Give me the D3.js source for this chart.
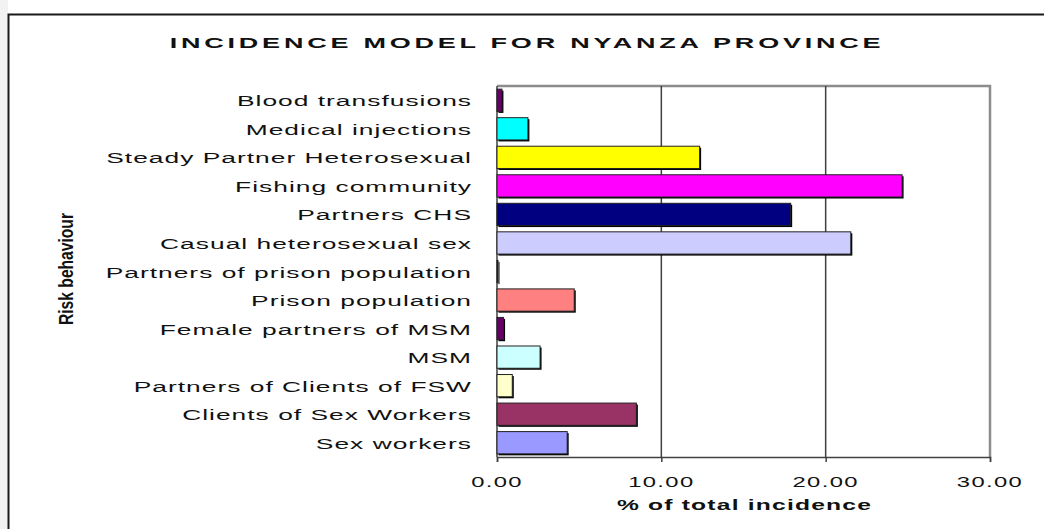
<!DOCTYPE html>
<html>
<head>
<meta charset="utf-8">
<script src="https://cdn.jsdelivr.net/npm/d3@7"></script>
<style>
  html, body { margin: 0; padding: 0; background: #fff; }
  svg { display: block; }
  text { font-family: "Liberation Sans", Arial, sans-serif; fill: #111; }
</style>
</head>
<body>
<div id="chart"></div>
<script>
// data
const categories = [
  "Blood transfusions",
  "Medical injections",
  "Steady Partner Heterosexual",
  "Fishing community",
  "Partners CHS",
  "Casual heterosexual sex",
  "Partners of prison population",
  "Prison population",
  "Female partners of MSM",
  "MSM",
  "Partners of Clients of FSW",
  "Clients of Sex Workers",
  "Sex workers"
]
const values = [0.30, 1.88, 12.33, 24.65, 17.87, 21.53, 0.06, 4.70, 0.40, 2.62, 0.93, 8.48, 4.27]
const barColors = ["#660066", "#00ffff", "#ffff00", "#ff00ff", "#000080", "#ccccff", "#000000",
  "#ff8080", "#660066", "#ccffff", "#ffffcc", "#993366", "#9999ff"]
const xTicks = [0, 10, 20, 30]
const title = "INCIDENCE MODEL FOR NYANZA PROVINCE"
const xTitle = "% of total incidence"
const yTitle = "Risk behaviour"

const W = 1044, H = 529
const plot = { left: 497, right: 990, top: 86, bottom: 457 }
const SX = 1.7   // the picture is stretched sideways

const svg = d3.select("#chart").append("svg")
  .attr("width", W)
  .attr("height", H)

// outer frame
svg.append("rect").attr("x", 0).attr("y", 0).attr("width", 8).attr("height", H).attr("fill", "#f2f2f2")
svg.append("path")
  .attr("d", `M8.5,${H} V14.5 H${W}`)
  .attr("fill", "none")
  .attr("stroke", "#1a1a1a")
  .attr("stroke-width", 2)

const x = d3.scaleLinear().domain([0, 30]).range([plot.left, plot.right])
const y = d3.scaleBand()
  .domain(categories)
  .range([plot.top, plot.bottom])
  .paddingInner(0.22)
  .paddingOuter(0.11)

// plot area border (top and right)
svg.append("path")
  .attr("d", `M${plot.left},${plot.top} H${plot.right} V${plot.bottom}`)
  .attr("fill", "none")
  .attr("stroke", "#8c8c8c")
  .attr("stroke-width", 2.5)

// gridlines
svg.append("g")
  .selectAll("line")
  .data(xTicks.filter(d => d > 0 && d < 30))
  .join("line")
    .attr("x1", d => x(d)).attr("x2", d => x(d))
    .attr("y1", plot.top).attr("y2", plot.bottom)
    .attr("stroke", "#404040")
    .attr("stroke-width", 1.5)

// x axis
const xAxis = svg.append("g")
  .attr("transform", `translate(0,${plot.bottom})`)
  .call(d3.axisBottom(x).tickValues(xTicks).tickSize(5).tickFormat(""))
xAxis.select(".domain").attr("stroke", "#404040").attr("stroke-width", 1.5)
xAxis.selectAll(".tick line").attr("stroke", "#404040").attr("stroke-width", 1.5)

svg.append("g")
  .selectAll("text")
  .data(xTicks)
  .join("text")
    .attr("transform", d => `translate(${x(d)},487) scale(${SX},1)`)
    .attr("text-anchor", "middle")
    .attr("font-size", 14)
    .attr("letter-spacing", 0.8)
    .text(d => d3.format(".2f")(d))

// left axis line
svg.append("line")
  .attr("x1", plot.left).attr("x2", plot.left)
  .attr("y1", plot.top).attr("y2", plot.bottom)
  .attr("stroke", "#404040")
  .attr("stroke-width", 1.5)

// bars: shadow first, then the bar
const bars = svg.append("g")
bars.selectAll("rect.shadow")
  .data(values)
  .join("rect")
    .attr("class", "shadow")
    .attr("x", plot.left + 1.5)
    .attr("y", (d, i) => y(categories[i]) + 1.5)
    .attr("width", d => x(d) - plot.left)
    .attr("height", y.bandwidth())
    .attr("fill", "#000")

bars.selectAll("rect.bar")
  .data(values)
  .join("rect")
    .attr("class", "bar")
    .attr("x", plot.left)
    .attr("y", (d, i) => y(categories[i]))
    .attr("width", d => x(d) - plot.left)
    .attr("height", y.bandwidth())
    .attr("fill", (d, i) => barColors[i])
    .attr("stroke", "#222")
    .attr("stroke-width", 1)

// category labels
svg.append("g")
  .selectAll("text")
  .data(categories)
  .join("text")
    .attr("transform", d => `translate(472,${y(d) + y.bandwidth() / 2 + 6}) scale(${SX},1)`)
    .attr("text-anchor", "end")
    .attr("font-size", 15.5)
    .attr("letter-spacing", 0.6)
    .text(d => d)

// titles
svg.append("text")
  .attr("transform", `translate(527,47.5) scale(1.8,1)`)
  .attr("text-anchor", "middle")
  .attr("font-size", 15)
  .attr("font-weight", "bold")
  .attr("letter-spacing", 2.1)
  .text(title)

svg.append("text")
  .attr("transform", `translate(${(plot.left + plot.right) / 2 + 1},510) scale(${SX},1)`)
  .attr("text-anchor", "middle")
  .attr("font-size", 14.5)
  .attr("font-weight", "bold")
  .attr("letter-spacing", 0.7)
  .text(xTitle)

svg.append("text")
  .attr("transform", "translate(73,269) rotate(-90)")
  .attr("text-anchor", "middle")
  .attr("font-family", "'Liberation Sans Narrow', 'DejaVu Sans Condensed', sans-serif")
  .attr("font-size", 21)
  .attr("font-weight", "bold")
  .attr("textLength", 112)
  .attr("lengthAdjust", "spacingAndGlyphs")
  .text(yTitle)
</script>
</body>
</html>
